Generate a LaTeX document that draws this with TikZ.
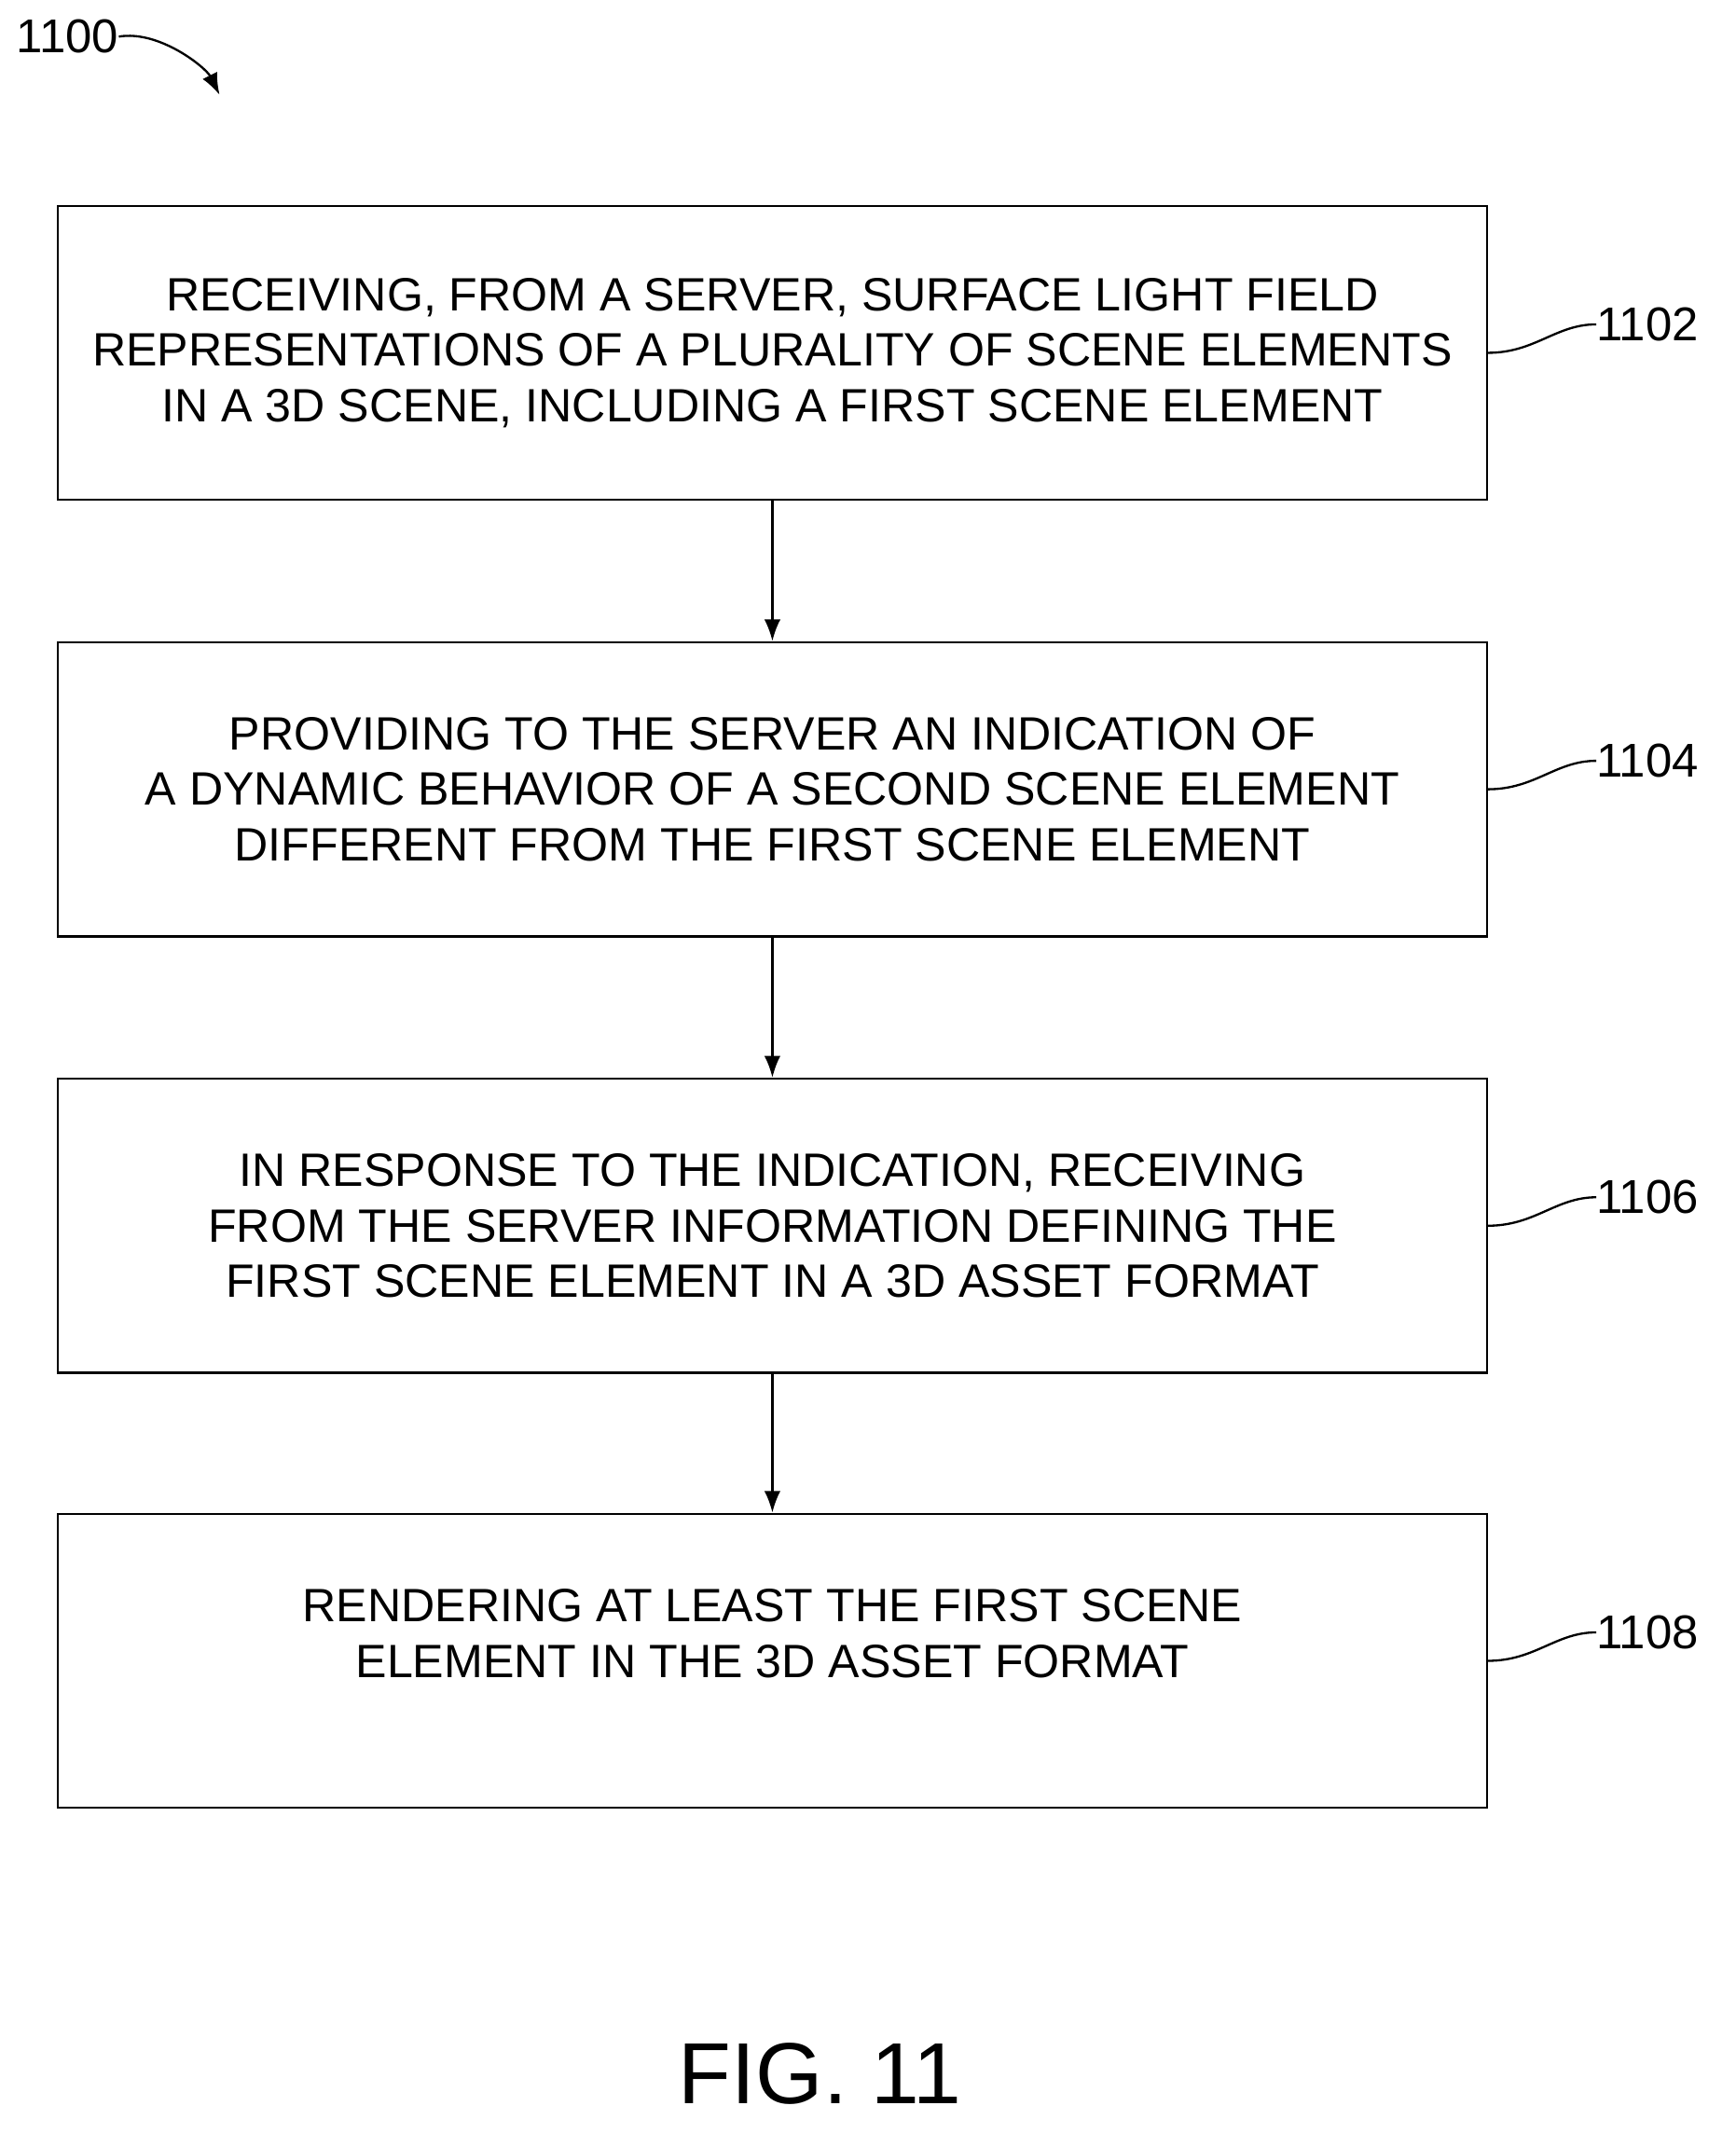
\documentclass[tikz,border=0pt]{standalone}
\usepackage{fontspec}
\setmainfont{Liberation Sans}
\usetikzlibrary{arrows.meta}
\begin{document}
\begin{tikzpicture}[x=1pt,y=-1pt,
 box/.style={draw,line width=1.6pt,minimum width=1054pt,minimum height=217pt,anchor=north west,inner sep=0pt,align=center,font=\fontsize{34.5}{41}\selectfont},
 lab/.style={font=\fontsize{35}{38}\selectfont,anchor=west,inner sep=0pt},
 arr/.style={line width=1.6pt,-{Latex[length=16pt,width=12pt]}}]
\useasboundingbox (0,0) rectangle (1280,1584);
\node[box] (b1) at (42,151) {RECEIVING, FROM A SERVER, SURFACE LIGHT FIELD\\REPRESENTATIONS OF A PLURALITY OF SCENE ELEMENTS\\IN A 3D SCENE, INCLUDING A FIRST SCENE ELEMENT};
\node[box] (b2) at (42,473) {PROVIDING TO THE SERVER AN INDICATION OF\\A DYNAMIC BEHAVIOR OF A SECOND SCENE ELEMENT\\DIFFERENT FROM THE FIRST SCENE ELEMENT};
\node[box] (b3) at (42,795) {IN RESPONSE TO THE INDICATION, RECEIVING\\FROM THE SERVER INFORMATION DEFINING THE\\FIRST SCENE ELEMENT IN A 3D ASSET FORMAT};
\node[box] (b4) at (42,1116) {RENDERING AT LEAST THE FIRST SCENE\\ELEMENT IN THE 3D ASSET FORMAT\\\vphantom{X}};
\draw[arr] (b1.south) -- (b2.north);
\draw[arr] (b2.south) -- (b3.north);
\draw[arr] (b3.south) -- (b4.north);
\foreach \b/\t in {b1/1102,b2/1104,b3/1106,b4/1108}{
 \node[lab] (l\t) at ([xshift=80pt,yshift=21pt]\b.east) {\t};
 \draw[line width=1.6pt] (\b.east) .. controls +(35,0) and +(-30,0) .. (l\t.west);
}
\node[lab] (l1100) at (12,27) {1100};
\coordinate (t1100) at (162,70);
\draw[arr] (l1100.east) .. controls +(30,-5) and +(-10,-20) .. (t1100);
\node[font=\fontsize{64}{70}\selectfont] (fig) at (605,1530) {FIG. 11};
\end{tikzpicture}
\end{document}
